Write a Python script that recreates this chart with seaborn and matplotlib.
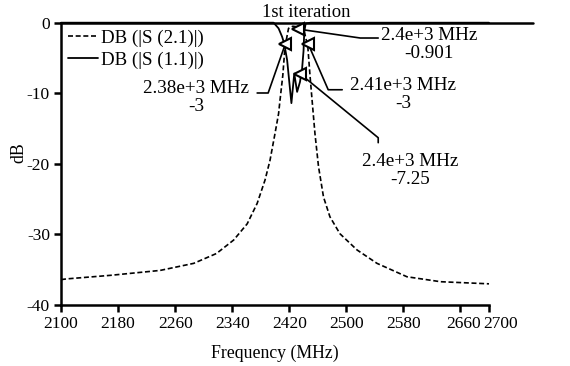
import numpy as np
import pandas as pd
import matplotlib
matplotlib.use("Agg")
import matplotlib.pyplot as plt
import matplotlib.transforms as mtransforms
import seaborn as sns

# ---- data ----
s21_freq = [2100, 2108, 2169, 2239, 2286, 2318, 2342, 2361, 2375, 2386, 2393, 2400, 2405, 2407,
            2411, 2414, 2419, 2425, 2432, 2440, 2446, 2449, 2452, 2456, 2461, 2468, 2477,
            2491, 2515, 2543, 2585, 2632, 2700]
s21_db = [-36.4, -36.3, -35.8, -35.1, -34.1, -32.7, -30.8, -28.5, -25.6, -22.3, -19.5, -15.7, -12.9, -11.0,
          -7.4, -3.4, -0.8, -0.5, -0.6, -0.8, -3.4, -7.4, -11.0, -15.7, -20.4, -24.7, -27.5,
          -29.9, -32.2, -34.1, -36.0, -36.7, -37.0]

s11_freq = [2100, 2300, 2398, 2405, 2410, 2413, 2417, 2423, 2427, 2431, 2435, 2438, 2440,
            2441, 2443, 2450, 2700]
s11_db = [0, 0, 0, -0.8, -2.0, -3.0, -5.3, -11.4, -7.2, -9.8, -8.4, -6.5, -4.0,
          -1.3, -0.1, 0, 0]

marker_freq = [2432.5, 2414.5, 2446.5, 2435.3]
marker_db = [-0.901, -3.0, -3.0, -7.25]
marker_labels = ["2.4e+3 MHz\n-0.901", "2.38e+3 MHz\n-3", "2.41e+3 MHz\n-3", "2.4e+3 MHz\n-7.25"]

xticks = [2100, 2180, 2260, 2340, 2420, 2500, 2580, 2660, 2700]
yticks = [0, -10, -20, -30, -40]
series_names = ["DB (|S (2.1)|)", "DB (|S (1.1)|)"]
title_text = "1st iteration"

# ---- style ----
sns.set_theme(style="ticks")
plt.rcParams['font.family'] = ['Liberation Serif', 'DejaVu Serif']
plt.rcParams['axes.unicode_minus'] = False

fig = plt.figure(figsize=(5.7, 3.66), dpi=100)
ax = fig.add_axes([61/570, 1-305/366, (489-61)/570, (305-22.7)/366])

df21 = pd.DataFrame({"f": s21_freq, "db": s21_db})
df11 = pd.DataFrame({"f": s11_freq, "db": s11_db})
sns.lineplot(data=df21, x="f", y="db", ax=ax, color="black", lw=1.2,
             linestyle=(0, (3, 1.6)), label=series_names[0], sort=False)
sns.lineplot(data=df11, x="f", y="db", ax=ax, color="black", lw=1.3,
             label=series_names[1], sort=False)
for ln in ax.get_lines():
    ln.set_clip_on(False)

ax.set_xlim(2100, 2700)
ax.set_ylim(-40, 0)
ax.set_xticks(xticks)
ax.set_xticklabels([str(t) for t in xticks])
ax.set_yticks(yticks)
ax.set_yticklabels([str(t) for t in yticks])
ax.tick_params(axis='both', labelsize=12.5, length=5, width=1.8, color='black',
               labelcolor='black', pad=3)
# the last two x labels sit slightly right of their ticks in the reference
labs = ax.get_xticklabels()
for lab, dx in zip(labs[-2:], [3, 12]):
    lab.set_transform(lab.get_transform() + mtransforms.ScaledTranslation(dx/100, 0, fig.dpi_scale_trans))

for s in ['right', 'top']:
    ax.spines[s].set_visible(False)
for s in ['left', 'bottom']:
    ax.spines[s].set_linewidth(1.8)
    ax.spines[s].set_color('black')

# top line at 0 dB, extending beyond the frame
ax.axhline(0, xmin=0, xmax=(533-61)/(489-61), color='black', lw=1.8, clip_on=False)

ax.set_xlabel("Frequency (MHz)", fontsize=12.8, color='black')
ax.set_ylabel("dB", fontsize=12.8, color='black')
ax.yaxis.set_label_coords(-0.078, 0.54)
ax.xaxis.set_label_coords(0.5, -0.14)

# markers
ax.plot(marker_freq, marker_db, linestyle='none', marker='<', markersize=8,
        markerfacecolor='white', markeredgecolor='black', markeredgewidth=1.5,
        clip_on=False, zorder=5)

# annotations: text centre and leader-line elbow points (data coords)
text_pos = [(2616, -3.1), (2289, -10.6), (2580, -10.2), (2590, -20.9)]
leader_pts = [
    [(2519.5, -2.17), (2544.7, -2.17)],
    [(2390.4, -9.96), (2375.0, -9.96)],
    [(2474.6, -9.5), (2494.2, -9.5)],
    [(2544.7, -16.3), (2544.7, -17.0)],
]
for (mf, mdb, lab, tp, lp) in zip(marker_freq, marker_db, marker_labels, text_pos, leader_pts):
    xs = [mf] + [p[0] for p in lp]
    ys = [mdb] + [p[1] for p in lp]
    ax.plot(xs, ys, color='black', lw=1.2, clip_on=False, zorder=4)
    ax.text(tp[0], tp[1], lab, ha='center', va='center', fontsize=13.8,
            linespacing=1.05, color='black', multialignment='center')

ax.text(2443.7, 1.5, title_text, ha='center', va='center', fontsize=13.4, color='black')

leg = ax.legend(loc='upper left', bbox_to_anchor=(0.0, 1.0), frameon=False,
                fontsize=13.6, handlelength=1.6, handletextpad=0.15,
                labelspacing=0.25, borderaxespad=0.15, borderpad=0.2)
for t in leg.get_texts():
    t.set_color('black')

fig.savefig("out.png", dpi=100)
